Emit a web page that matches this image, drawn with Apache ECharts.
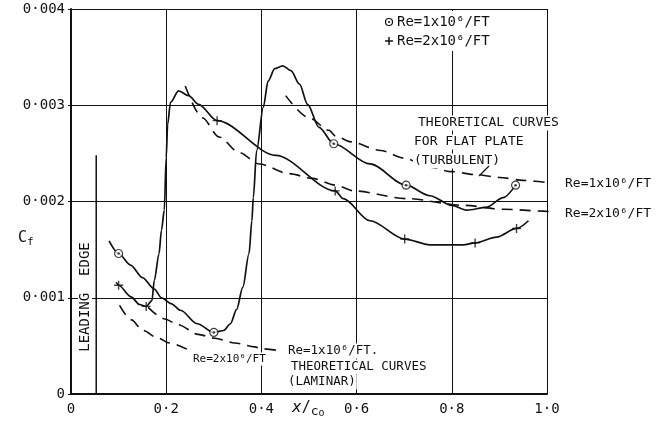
<!DOCTYPE html>
<html>
<head>
<meta charset="utf-8">
<script src="https://cdn.jsdelivr.net/npm/echarts@6/dist/echarts.min.js"></script>
<style>
  html, body { margin: 0; padding: 0; background: #fff; }
  #chart { width: 662px; height: 425px; }
</style>
</head>
<body>
<div id="chart"></div>
<script>
// Skin-friction coefficient along the chord, x/c0 against Cf.
const xTickLabels = ['0', '0·2', '0·4', '0·6', '0·8', '1·0'];
const yTickLabels = ['0', '0·001', '0·002', '0·003', '0·004'];

// Measured, Re = 1x10^6/ft (faired curve and plotted points)
const re1Curve = [
  [0.080, 0.00159], [0.100, 0.00146], [0.125, 0.00134], [0.150, 0.00121], [0.175, 0.00109],
  [0.190, 0.00100], [0.210, 0.00094], [0.230, 0.00087], [0.265, 0.00073], [0.300, 0.00064],
  [0.321, 0.00066], [0.335, 0.00073], [0.348, 0.00088], [0.361, 0.00111], [0.374, 0.00146],
  [0.380, 0.00180], [0.383, 0.00204], [0.390, 0.00253], [0.404, 0.00298], [0.414, 0.00325],
  [0.428, 0.00338], [0.445, 0.00341], [0.462, 0.00336], [0.480, 0.00322], [0.497, 0.00301],
  [0.521, 0.00277], [0.552, 0.00260], [0.628, 0.00239], [0.704, 0.00217], [0.754, 0.00206],
  [0.800, 0.00196], [0.831, 0.00191], [0.873, 0.00194], [0.908, 0.00204], [0.934, 0.00217]
];
const re1Points = [[0.100, 0.00146], [0.300, 0.00064], [0.552, 0.00260], [0.704, 0.00217], [0.934, 0.00217]];

// Measured, Re = 2x10^6/ft
const re2Curve = [
  [0.095, 0.00116], [0.100, 0.00113], [0.126, 0.00101], [0.144, 0.00093], [0.158, 0.00091],
  [0.170, 0.00097], [0.175, 0.00118], [0.185, 0.00146], [0.190, 0.00170], [0.196, 0.00191],
  [0.200, 0.00246], [0.203, 0.00280], [0.209, 0.00303], [0.226, 0.00315], [0.247, 0.00310],
  [0.268, 0.00301], [0.307, 0.00284], [0.430, 0.00248], [0.555, 0.00211], [0.572, 0.00203],
  [0.628, 0.00180], [0.701, 0.00161], [0.754, 0.00155], [0.824, 0.00155], [0.849, 0.00157],
  [0.894, 0.00163], [0.936, 0.00172], [0.961, 0.00180]
];
const re2Points = [[0.100, 0.00113], [0.158, 0.00091], [0.307, 0.00284], [0.555, 0.00211], [0.701, 0.00161], [0.849, 0.00157], [0.936, 0.00172]];

// Flat-plate theory, turbulent
const turb1 = [
  [0.451, 0.00310], [0.500, 0.00287], [0.542, 0.00274], [0.556, 0.00268], [0.588, 0.00262],
  [0.650, 0.00253], [0.700, 0.00245], [0.750, 0.00236], [0.800, 0.00231], [0.850, 0.00228],
  [0.900, 0.00225], [0.950, 0.00222], [1.000, 0.00220], [1.015, 0.00220]
];
const turb2 = [
  [0.240, 0.00320], [0.276, 0.00287], [0.311, 0.00267], [0.353, 0.00251], [0.395, 0.00239],
  [0.458, 0.00229], [0.507, 0.00224], [0.556, 0.00217], [0.594, 0.00211], [0.705, 0.00203],
  [0.824, 0.00196], [0.908, 0.00192], [0.992, 0.00190], [1.015, 0.00189]
];

// Flat-plate theory, laminar
const lam1 = [
  [0.162, 0.00090], [0.197, 0.00078], [0.225, 0.00072], [0.267, 0.00062], [0.302, 0.00058],
  [0.344, 0.00053], [0.386, 0.00049], [0.400, 0.00047], [0.438, 0.00045]
];
const lam2 = [
  [0.102, 0.00092], [0.127, 0.00077], [0.151, 0.00066], [0.183, 0.00058], [0.207, 0.00053], [0.246, 0.00046]
];

// Leading-edge marker line
const leadingEdge = [[0.053, 0], [0.053, 0.00248]];

const INK = '#111';
const MONO = "'DejaVu Sans Mono', monospace";

const solid = { color: INK, width: 1.7 };
const dashed = { color: INK, width: 1.6, type: [11, 7] };

function curve(data, lineStyle) {
  return {
    type: 'line', data: data, showSymbol: false, symbol: 'none',
    smooth: 0.3, smoothMonotone: 'x', clip: false,
    lineStyle: lineStyle, z: 3, silent: true
  };
}

function label(text, x, y, size, extra) {
  return Object.assign({
    type: 'text', x: x, y: y, z: 20, silent: true,
    style: {
      text: text, font: size + 'px ' + MONO, fill: INK,
      align: 'left', verticalAlign: 'middle',
      backgroundColor: '#fff', padding: [1, 1]
    }
  }, extra || {});
}

const chart = echarts.init(document.getElementById('chart'), null, { renderer: 'canvas' });

chart.setOption({
  animation: false,
  backgroundColor: '#fff',
  grid: { left: 71, right: 115, top: 9, bottom: 31 },
  xAxis: {
    type: 'value', min: 0, max: 1, interval: 0.2,
    axisLine: { show: true, onZero: false, lineStyle: { color: INK, width: 2 } },
    axisTick: { show: false },
    splitLine: { show: true, lineStyle: { color: INK, width: 1 } },
    axisLabel: {
      color: INK, fontFamily: MONO, fontSize: 14, margin: 8,
      formatter: v => xTickLabels[Math.round(v / 0.2)]
    }
  },
  yAxis: {
    type: 'value', min: 0, max: 0.004, interval: 0.001,
    axisLine: { show: true, onZero: false, lineStyle: { color: INK, width: 2 } },
    axisTick: { show: true, length: 3, lineStyle: { color: INK, width: 1 } },
    splitLine: { show: true, lineStyle: { color: INK, width: 1 } },
    axisLabel: {
      color: INK, fontFamily: MONO, fontSize: 14, margin: 6,
      formatter: v => yTickLabels[Math.round(v / 0.001)]
    }
  },
  series: [
    curve(re1Curve, solid),
    curve(re2Curve, solid),
    curve(turb1, dashed),
    curve(turb2, dashed),
    curve(lam1, dashed),
    curve(lam2, dashed),
    { type: 'line', data: leadingEdge, showSymbol: false, symbol: 'none', lineStyle: { color: INK, width: 1.5 }, z: 3, silent: true },
    {
      type: 'scatter', data: re1Points, symbol: 'circle', symbolSize: 8, z: 5, silent: true,
      itemStyle: { color: '#fff', borderColor: INK, borderWidth: 1.2 }
    },
    {
      type: 'scatter', data: re1Points, symbol: 'circle', symbolSize: 2.5, z: 6, silent: true,
      itemStyle: { color: INK }
    },
    {
      type: 'scatter', data: re2Points, symbol: 'path://M5,0V10M0,5H10', symbolSize: 9, z: 5, silent: true,
      itemStyle: { color: 'none', borderColor: INK, borderWidth: 1.4 }
    }
  ],
  graphic: [
    // key, top right
    { type: 'rect', z: 15, silent: true, shape: { x: 382, y: 11, width: 118, height: 40 }, style: { fill: '#fff' } },
    { type: 'circle', z: 20, silent: true, shape: { cx: 389, cy: 22, r: 3.5 }, style: { fill: '#fff', stroke: INK, lineWidth: 1.2 } },
    { type: 'circle', z: 21, silent: true, shape: { cx: 389, cy: 22, r: 1 }, style: { fill: INK } },
    { type: 'line', z: 20, silent: true, shape: { x1: 385, y1: 41, x2: 393, y2: 41 }, style: { stroke: INK, lineWidth: 1.5 } },
    { type: 'line', z: 20, silent: true, shape: { x1: 389, y1: 37, x2: 389, y2: 45 }, style: { stroke: INK, lineWidth: 1.5 } },
    label('Re=1x10⁶/FT', 396, 22, 14),
    label('Re=2x10⁶/FT', 396, 41, 14),

    // turbulent theory note
    label('THEORETICAL CURVES', 417, 123, 13),
    label('FOR FLAT PLATE', 413, 142, 13),
    label('(TURBULENT)', 413, 161, 13),
    { type: 'line', z: 21, silent: true, shape: { x1: 489, y1: 166, x2: 479, y2: 176 }, style: { stroke: INK, lineWidth: 1.3 } },
    label('Re=1x10⁶/FT', 564, 184, 13),
    label('Re=2x10⁶/FT', 564, 214, 13),

    // laminar theory note
    label('Re=1x10⁶/FT.', 287, 351, 12.5),
    label('THEORETICAL CURVES', 290, 367, 12.5),
    label('(LAMINAR)', 287, 382, 12.5),
    label('Re=2x10⁶/FT', 192, 359, 11),

    // leading edge
    {
      type: 'text', z: 20, silent: true, x: 85, y: 297, rotation: Math.PI / 2,
      style: {
        text: 'LEADING  EDGE', font: '14px ' + MONO, fill: INK,
        align: 'center', verticalAlign: 'middle', backgroundColor: '#fff', padding: [0, 1]
      }
    },

    // axis titles
    {
      type: 'text', z: 20, silent: true, x: 18, y: 238,
      style: {
        text: '{c|C}{f|f}', align: 'left', verticalAlign: 'middle',
        rich: {
          c: { font: '15px ' + MONO, fill: INK, lineHeight: 20, verticalAlign: 'middle' },
          f: { font: '11px ' + MONO, fill: INK, lineHeight: 12, verticalAlign: 'bottom' }
        }
      }
    },
    {
      type: 'text', z: 20, silent: true, x: 292, y: 408,
      style: {
        text: '{x|x}{s|/}{c|c}{o|o}', align: 'left', verticalAlign: 'middle',
        rich: {
          x: { font: 'italic 16px ' + MONO, fill: INK, lineHeight: 20, verticalAlign: 'middle' },
          s: { font: '15px ' + MONO, fill: INK, lineHeight: 20, verticalAlign: 'middle' },
          c: { font: '13px ' + MONO, fill: INK, lineHeight: 14, verticalAlign: 'bottom' },
          o: { font: '10px ' + MONO, fill: INK, lineHeight: 10, verticalAlign: 'bottom' }
        }
      }
    }
  ]
});
</script>
</body>
</html>
